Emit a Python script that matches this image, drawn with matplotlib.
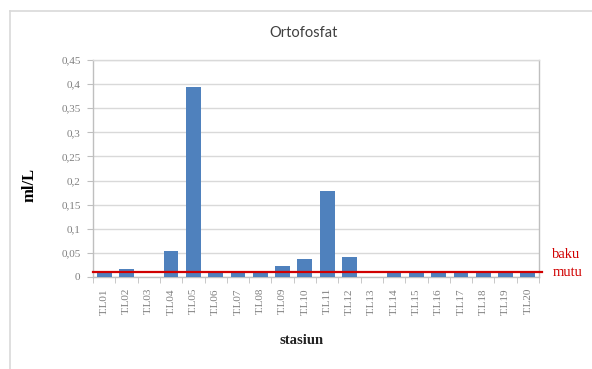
import matplotlib
matplotlib.use("Agg")
import matplotlib.pyplot as plt
from matplotlib.lines import Line2D
import numpy as np

stations = ["T.L01", "T.L02", "T.L03", "T.L04", "T.L05", "T.L06", "T.L07",
            "T.L08", "T.L09", "T.L10", "T.L11", "T.L12", "T.L13", "T.L14",
            "T.L15", "T.L16", "T.L17", "T.L18", "T.L19", "T.L20"]
ortofosfat = [0.01, 0.016, 0.0, 0.053, 0.394, 0.01, 0.01, 0.01, 0.023, 0.037,
              0.178, 0.041, 0.0, 0.01, 0.01, 0.01, 0.01, 0.01, 0.01, 0.01]
baku_mutu = 0.01
yticks = [0, 0.05, 0.1, 0.15, 0.2, 0.25, 0.3, 0.35, 0.4, 0.45]
ytick_labels = ["0", "0,05", "0,1", "0,15", "0,2", "0,25", "0,3", "0,35", "0,4", "0,45"]

serif = ["Liberation Serif", "DejaVu Serif"]
grey = "#7f7f7f"

fig = plt.figure(figsize=(5.92, 3.69), dpi=100)
fig.patch.set_facecolor("white")

# chart frame (top and left edges)
fig.add_artist(Line2D([10 / 592, 1.0], [1 - 11 / 369, 1 - 11 / 369],
                      color="#d9d9d9", lw=1.2, transform=fig.transFigure))
fig.add_artist(Line2D([10 / 592, 10 / 592], [0, 1 - 11 / 369],
                      color="#d9d9d9", lw=1.2, transform=fig.transFigure))

ax = fig.add_axes([93 / 592, 1 - 277 / 369, (539 - 93) / 592, (277 - 60) / 369])
x = np.arange(len(stations))
ax.bar(x, ortofosfat, width=0.66, color="#4F81BD", zorder=3)
ax.set_xlim(-0.5, len(stations) - 0.5)
ax.set_ylim(0, 0.45)

ax.set_yticks(yticks)
ax.set_yticklabels(ytick_labels, fontsize=8, family=serif, color=grey)
ax.yaxis.grid(True, color="#d9d9d9", lw=1.0, zorder=0)
ax.tick_params(axis="y", length=4, color="#bfbfbf", pad=5)

ax.set_xticks(x)
ax.set_xticklabels(stations, rotation=90, fontsize=8, family=serif, color=grey)
ax.set_xticks(np.arange(-0.5, len(stations), 1), minor=True)
ax.tick_params(axis="x", which="major", length=0, pad=8)
ax.tick_params(axis="x", which="minor", length=4, color="#bfbfbf")

for side in ["top", "right", "left", "bottom"]:
    ax.spines[side].set_color("#bfbfbf")
    ax.spines[side].set_linewidth(1.0)
ax.spines["top"].set_color("#d9d9d9")

# quality standard line
ax.plot([-0.5, len(stations) - 0.35], [baku_mutu, baku_mutu],
        color="#D00000", lw=1.6, zorder=4, clip_on=False)
ax.text(len(stations) + 0.1, baku_mutu + 0.018, "baku\nmutu", color="#D00000",
        fontsize=10.5, family=serif, va="center", ha="left", linespacing=1.45,
        clip_on=False)

fig.text(304 / 592, 1 - 33 / 369, "Ortofosfat", ha="center", va="center",
         fontsize=10.5, family=["Lato", "DejaVu Sans"], color="#404040")
fig.text(30 / 592, 1 - 185 / 369, "ml/L", ha="center", va="center", rotation=90,
         fontsize=12, family=serif, fontweight="bold", color="black")
fig.text(302 / 592, 1 - 340 / 369, "stasiun", ha="center", va="center",
         fontsize=10.5, family=serif, fontweight="bold", color="#222222")

fig.savefig("out.png", dpi=100)
